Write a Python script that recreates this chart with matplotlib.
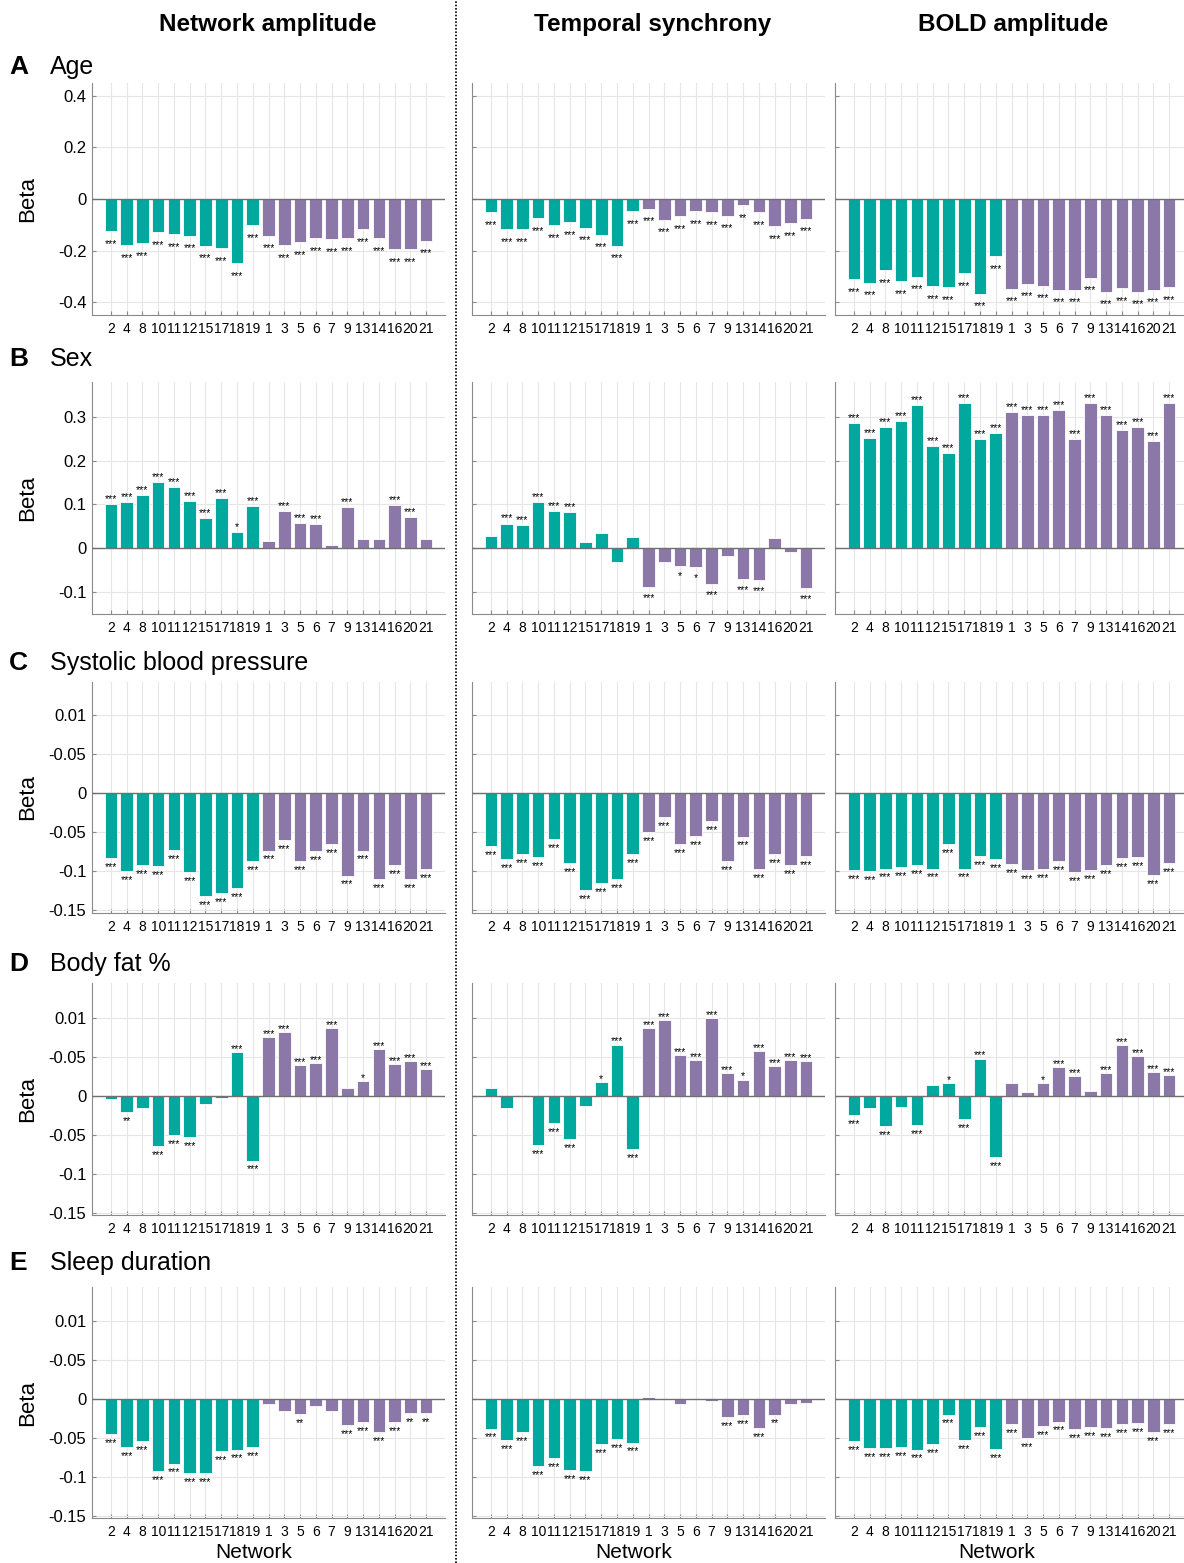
import numpy as np
import matplotlib.pyplot as plt
from matplotlib import font_manager
from matplotlib.lines import Line2D

# Redes en el orden del eje x (las 10 primeras en verde, el resto en morado)
redes = ['2', '4', '8', '10', '11', '12', '15', '17', '18', '19',
         '1', '3', '5', '6', '7', '9', '13', '14', '16', '20', '21']
n_verde = 10

# Betas por fenotipo y medida: amplitud de red, sincronía temporal, amplitud BOLD
age_amp = [-0.124, -0.178, -0.171, -0.129, -0.137, -0.143, -0.181, -0.191, -0.249, -0.101,
           -0.143, -0.178, -0.168, -0.152, -0.156, -0.152, -0.117, -0.152, -0.195, -0.195, -0.162]
age_sync = [-0.050, -0.116, -0.116, -0.074, -0.102, -0.089, -0.111, -0.139, -0.181, -0.048,
            -0.037, -0.080, -0.066, -0.048, -0.050, -0.065, -0.025, -0.052, -0.105, -0.095, -0.076]
age_bold = [-0.312, -0.325, -0.277, -0.320, -0.301, -0.339, -0.342, -0.288, -0.368, -0.223,
            -0.348, -0.328, -0.337, -0.352, -0.352, -0.305, -0.360, -0.347, -0.360, -0.352, -0.341]

sex_amp = [0.101, 0.105, 0.122, 0.150, 0.140, 0.108, 0.068, 0.115, 0.036, 0.096,
           0.017, 0.084, 0.058, 0.054, 0.007, 0.093, 0.020, 0.020, 0.099, 0.070, 0.020]
sex_sync = [0.027, 0.056, 0.053, 0.105, 0.084, 0.082, 0.013, 0.035, -0.031, 0.025,
            -0.090, -0.031, -0.040, -0.043, -0.083, -0.018, -0.070, -0.074, 0.022, -0.010, -0.092]
sex_bold = [0.286, 0.251, 0.277, 0.290, 0.327, 0.234, 0.218, 0.331, 0.250, 0.263,
            0.312, 0.305, 0.305, 0.315, 0.249, 0.331, 0.305, 0.271, 0.276, 0.244, 0.331]

sbp_amp = [-0.083, -0.100, -0.093, -0.094, -0.073, -0.101, -0.132, -0.128, -0.122, -0.087,
           -0.074, -0.060, -0.088, -0.075, -0.066, -0.106, -0.074, -0.111, -0.092, -0.111, -0.098]
sbp_sync = [-0.068, -0.085, -0.079, -0.082, -0.059, -0.090, -0.125, -0.116, -0.110, -0.078,
            -0.050, -0.031, -0.066, -0.055, -0.036, -0.087, -0.056, -0.098, -0.078, -0.093, -0.081]
sbp_bold = [-0.099, -0.100, -0.097, -0.095, -0.092, -0.097, -0.066, -0.097, -0.081, -0.085,
            -0.091, -0.099, -0.098, -0.088, -0.102, -0.099, -0.092, -0.083, -0.082, -0.105, -0.090]

fat_amp = [-0.004, -0.021, -0.016, -0.064, -0.050, -0.053, -0.010, -0.003, 0.056, -0.083,
           0.075, 0.082, 0.040, 0.042, 0.087, 0.010, 0.019, 0.060, 0.041, 0.045, 0.034]
fat_sync = [0.010, -0.015, 0.001, -0.063, -0.035, -0.055, -0.013, 0.018, 0.066, -0.068,
            0.087, 0.098, 0.053, 0.046, 0.100, 0.029, 0.021, 0.058, 0.038, 0.046, 0.045]
fat_bold = [-0.025, -0.016, -0.039, -0.014, -0.037, 0.014, 0.017, -0.030, 0.048, -0.078,
            0.016, 0.005, 0.017, 0.037, 0.025, 0.006, 0.029, 0.065, 0.051, 0.031, 0.027]

sleep_amp = [-0.045, -0.062, -0.054, -0.093, -0.083, -0.095, -0.095, -0.067, -0.065, -0.062,
             -0.007, -0.015, -0.019, -0.009, -0.015, -0.033, -0.030, -0.043, -0.030, -0.018, -0.018]
sleep_sync = [-0.038, -0.053, -0.043, -0.086, -0.076, -0.091, -0.093, -0.058, -0.052, -0.056,
              0.002, -0.0005, -0.006, -0.0005, -0.003, -0.023, -0.021, -0.037, -0.020, -0.007, -0.005]
sleep_bold = [-0.054, -0.063, -0.063, -0.062, -0.065, -0.058, -0.020, -0.053, -0.036, -0.064,
              -0.032, -0.050, -0.035, -0.029, -0.039, -0.036, -0.037, -0.032, -0.031, -0.042, -0.032]

# Significancia: numero de asteriscos por barra (0 = sin marca)
age_amp_sig = [3, 3, 3, 3, 3, 3, 3, 3, 3, 3, 3, 3, 3, 3, 3, 3, 3, 3, 3, 3, 3]
age_sync_sig = [3, 3, 3, 3, 3, 3, 3, 3, 3, 3, 3, 3, 3, 3, 3, 3, 2, 3, 3, 3, 3]
age_bold_sig = [3, 3, 3, 3, 3, 3, 3, 3, 3, 3, 3, 3, 3, 3, 3, 3, 3, 3, 3, 3, 3]
sex_amp_sig = [3, 3, 3, 3, 3, 3, 3, 3, 1, 3, 0, 3, 3, 3, 0, 3, 0, 0, 3, 3, 0]
sex_sync_sig = [0, 3, 3, 3, 3, 3, 0, 0, 0, 0, 3, 0, 1, 1, 3, 0, 3, 3, 0, 0, 3]
sex_bold_sig = [3, 3, 3, 3, 3, 3, 3, 3, 3, 3, 3, 3, 3, 3, 3, 3, 3, 3, 3, 3, 3]
sbp_amp_sig = [3, 3, 3, 3, 3, 3, 3, 3, 3, 3, 3, 3, 3, 3, 3, 3, 3, 3, 3, 3, 3]
sbp_sync_sig = [3, 3, 3, 3, 3, 3, 3, 3, 3, 3, 3, 3, 3, 3, 3, 3, 3, 3, 3, 3, 3]
sbp_bold_sig = [3, 3, 3, 3, 3, 3, 3, 3, 3, 3, 3, 3, 3, 3, 3, 3, 3, 3, 3, 3, 3]
fat_amp_sig = [0, 2, 0, 3, 3, 3, 0, 0, 3, 3, 3, 3, 3, 3, 3, 0, 1, 3, 3, 3, 3]
fat_sync_sig = [0, 0, 0, 3, 3, 3, 0, 1, 3, 3, 3, 3, 3, 3, 3, 3, 1, 3, 3, 3, 3]
fat_bold_sig = [3, 0, 3, 0, 3, 0, 1, 3, 3, 3, 0, 0, 1, 3, 3, 0, 3, 3, 3, 3, 3]
sleep_amp_sig = [3, 3, 3, 3, 3, 3, 3, 3, 3, 3, 0, 0, 2, 0, 0, 3, 3, 3, 3, 2, 2]
sleep_sync_sig = [3, 3, 3, 3, 3, 3, 3, 3, 3, 3, 0, 0, 0, 0, 0, 3, 3, 3, 2, 0, 0]
sleep_bold_sig = [3, 3, 3, 3, 3, 3, 3, 3, 3, 3, 3, 3, 3, 3, 3, 3, 3, 3, 3, 3, 3]

columnas = ['Network amplitude', 'Temporal synchrony', 'BOLD amplitude']
letras = ['A', 'B', 'C', 'D', 'E']
fenotipos = ['Age', 'Sex', 'Systolic blood pressure', 'Body fat %', 'Sleep duration']

datos = [[age_amp, age_sync, age_bold],
         [sex_amp, sex_sync, sex_bold],
         [sbp_amp, sbp_sync, sbp_bold],
         [fat_amp, fat_sync, fat_bold],
         [sleep_amp, sleep_sync, sleep_bold]]
sig = [[age_amp_sig, age_sync_sig, age_bold_sig],
       [sex_amp_sig, sex_sync_sig, sex_bold_sig],
       [sbp_amp_sig, sbp_sync_sig, sbp_bold_sig],
       [fat_amp_sig, fat_sync_sig, fat_bold_sig],
       [sleep_amp_sig, sleep_sync_sig, sleep_bold_sig]]

# Ejes y de cada fila (las filas C-E llevan las mismas etiquetas)
yticks_ab = [[-0.4, -0.2, 0, 0.2, 0.4], [-0.1, 0, 0.1, 0.2, 0.3]]
ylabels_ab = [['-0.4', '-0.2', '0', '0.2', '0.4'], ['-0.1', '0', '0.1', '0.2', '0.3']]
yticks_cde = [0.1, 0.05, 0, -0.05, -0.1, -0.15]
ylabels_cde = ['0.01', '-0.05', '0', '-0.05', '-0.1', '-0.15']
ylims = [(-0.45, 0.45), (-0.151, 0.38), (-0.154, 0.142), (-0.153, 0.145), (-0.153, 0.144)]

verde = '#00A89E'
morado = '#8C77A9'
gris_eje = '#8a8a8a'
gris_rejilla = '#e6e6e6'

fuente = 'Liberation Sans'
nombres = {f.name for f in font_manager.fontManager.ttflist}
if 'Liberation Sans Narrow' in nombres:
    fuente_x, tam_x = 'Liberation Sans Narrow', 12
else:
    fuente_x, tam_x = 'Liberation Sans', 10
plt.rcParams['font.family'] = [fuente, 'DejaVu Sans']

W, H = 1184, 1563
fig = plt.figure(figsize=(W / 100, H / 100), dpi=100)

# posiciones en pixeles de cada panel
x_izq = [92, 472, 835]
ancho = 353
filas = [(83, 315), (382, 614), (682, 913), (983, 1215), (1287, 1518)]
sep_estrellas = [9.7, 8, 6, 6, 6]
titulo_y = [67, 359, 663, 964, 1263]
xlabel_x = [254, 634, 997]

x = np.arange(len(redes))
colores = [verde] * n_verde + [morado] * (len(redes) - n_verde)

for r in range(5):
    arriba, abajo = filas[r]
    for c in range(3):
        ax = fig.add_axes([x_izq[c] / W, 1 - abajo / H, ancho / W, (abajo - arriba) / H])
        vals = np.array(datos[r][c])
        ax.bar(x, vals, width=0.8, color=colores, edgecolor='white', linewidth=0.6, zorder=2)
        ax.axhline(0, color='#707070', lw=1, zorder=3)

        # asteriscos de significancia
        for i, v in enumerate(vals):
            n = sig[r][c][i]
            if n == 0:
                continue
            if v < 0:
                dy = -(sep_estrellas[r] + 6) * 0.72
            else:
                dy = (sep_estrellas[r] - 6) * 0.72
            ax.annotate('*' * n, (x[i], v), xytext=(0, dy), textcoords='offset points',
                        ha='center', va='baseline', fontsize=7.5, color='black', zorder=4)

        ax.set_xlim(-1.2, len(redes) - 1 + 1.2)
        ax.set_ylim(*ylims[r])
        ax.set_xticks(x)
        ax.set_xticklabels(redes, fontfamily=fuente_x, fontsize=tam_x)
        if r < 2:
            ax.set_yticks(yticks_ab[r])
            etiquetas = ylabels_ab[r]
        else:
            ax.set_yticks(yticks_cde)
            etiquetas = ylabels_cde
        if c == 0:
            ax.set_yticklabels(etiquetas, fontsize=12)
        else:
            ax.set_yticklabels([])

        ax.grid(True, color=gris_rejilla, lw=0.8, zorder=0)
        ax.set_axisbelow(True)
        ax.spines['top'].set_visible(False)
        ax.spines['right'].set_visible(False)
        ax.spines['left'].set_color(gris_eje)
        ax.spines['bottom'].set_color(gris_eje)
        ax.tick_params(direction='in', length=3, color=gris_eje, pad=4)
        ax.tick_params(axis='x', pad=5)

    # titulo de la fila y etiqueta del eje y
    fig.text(9 / W, 1 - titulo_y[r] / H, letras[r], fontsize=19, fontweight='bold', va='center')
    fig.text(50 / W, 1 - titulo_y[r] / H, fenotipos[r], fontsize=18, va='center')
    fig.text(28 / W, 1 - (arriba + abajo) / 2 / H, 'Beta', fontsize=16, rotation=90,
             ha='center', va='center')

# cabeceras de las columnas
centros = [268, 653, 1013]
for c in range(3):
    fig.text(centros[c] / W, 1 - 25 / H, columnas[c], fontsize=17.5, fontweight='bold',
             ha='center', va='center')
    fig.text(xlabel_x[c] / W, 1 - 1553 / H, 'Network', fontsize=15, ha='center', va='center')

# separador punteado entre la primera columna y las otras dos
fig.add_artist(Line2D([456 / W, 456 / W], [0, 1], color='black', lw=1.2, ls=(0, (1, 1))))

fig.savefig('out.png', dpi=100)
